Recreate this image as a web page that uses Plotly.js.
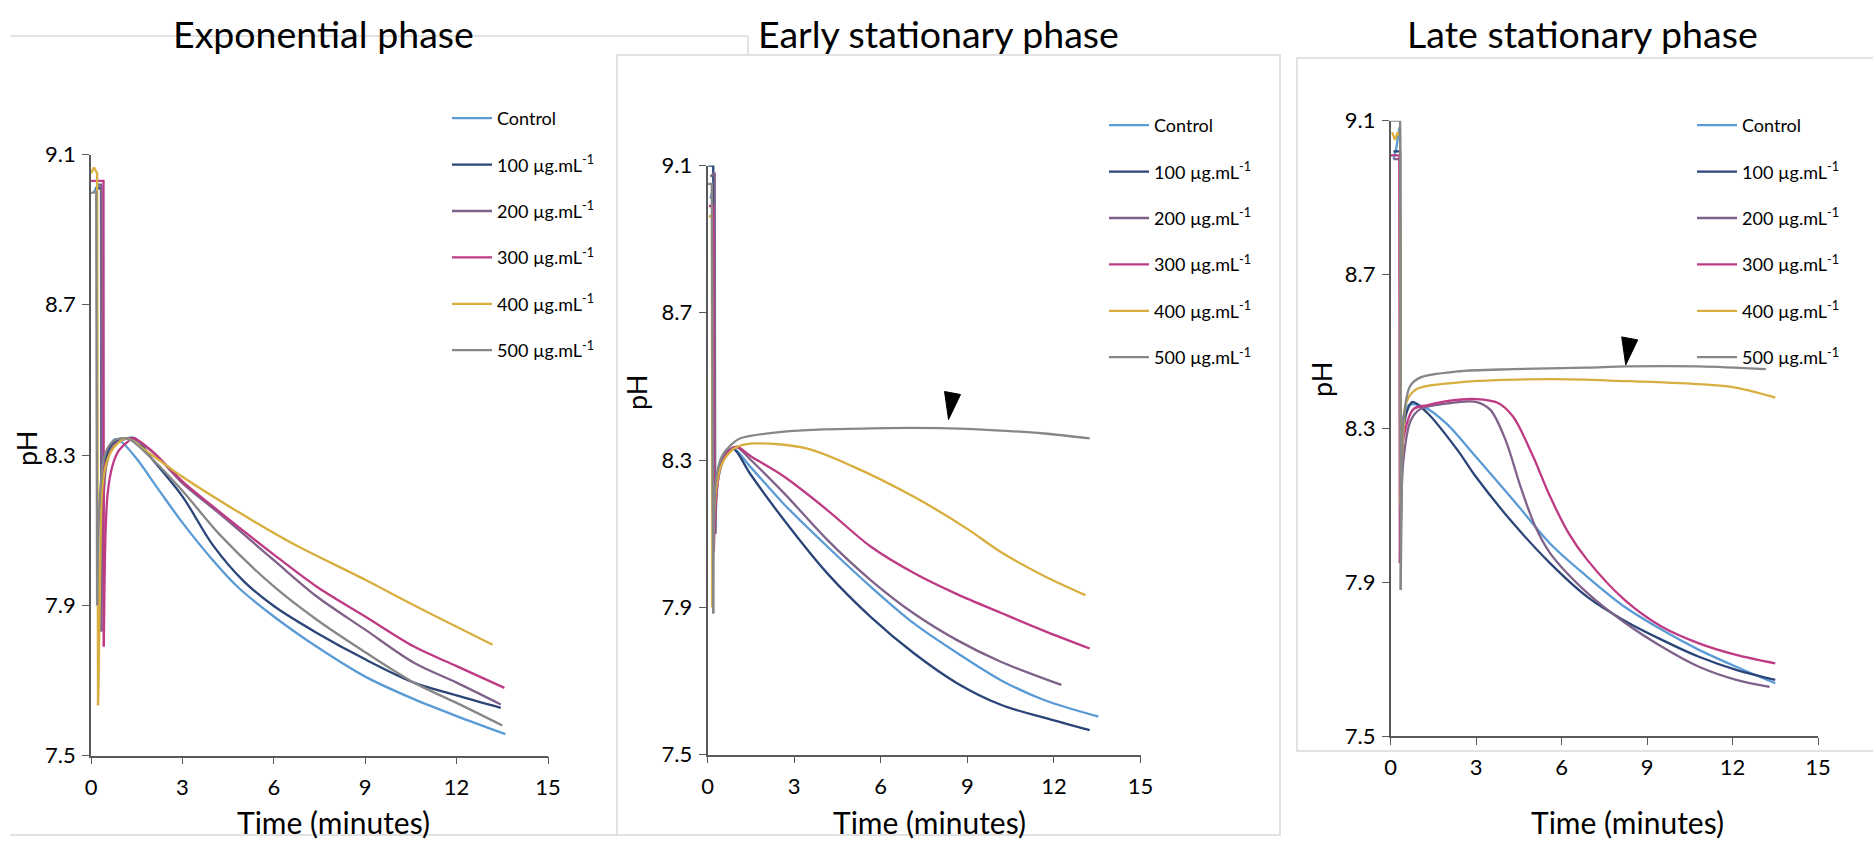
<!DOCTYPE html>
<html>
<head>
<meta charset="utf-8">
<script src="https://cdn.plot.ly/plotly-3.0.1.min.js"></script>
<style>html,body{margin:0;padding:0;background:#fff;}#chart{width:1873px;height:841px;}</style>
</head>
<body>
<div id="chart"></div>
<script>
// ---------- labels ----------
const panelTitles = ["Exponential phase", "Early stationary phase", "Late stationary phase"];
const seriesNames = ["Control", "100 µg.mL<sup>-1</sup>", "200 µg.mL<sup>-1</sup>", "300 µg.mL<sup>-1</sup>", "400 µg.mL<sup>-1</sup>", "500 µg.mL<sup>-1</sup>"];
const seriesColors = ["#5B9BD5", "#2B4578", "#7F6289", "#BE3A84", "#D8AE3E", "#878787"];
const xTickVals = [0, 3, 6, 9, 12, 15];
const yTickVals = [7.5, 7.9, 8.3, 8.7, 9.1];
const xTitle = "Time (minutes)";
const yTitle = "pH";

// ---------- Exponential phase ----------
const exp_ctrl_t  = [0.1, 0.2, 0.34, 0.36, 0.4, 0.45, 0.55, 0.78, 1.0, 1.5, 2.2, 3, 4, 4.8, 6, 7.4, 9, 10.6, 12, 13.6];
const exp_ctrl_ph = [9.0, 9.016, 9.016, 8.03, 8.15, 8.27, 8.31, 8.342, 8.335, 8.29, 8.21, 8.12, 8.02, 7.95, 7.87, 7.79, 7.71, 7.65, 7.605, 7.557];
const exp_100_t   = [0.15, 0.33, 0.34, 0.4, 0.5, 0.7, 1.0, 1.43, 2.0, 3, 4, 5, 6, 7.4, 9, 10.6, 12, 13.45];
const exp_100_ph  = [9.01, 9.01, 8.0, 8.2, 8.29, 8.33, 8.34, 8.345, 8.29, 8.19, 8.06, 7.965, 7.898, 7.827, 7.756, 7.694, 7.66, 7.627];
const exp_200_t   = [0.2, 0.33, 0.34, 0.4, 0.5, 0.7, 1.0, 1.3, 2, 3, 4.2, 6, 7.4, 9, 10.6, 12, 13.45];
const exp_200_ph  = [9.02, 9.02, 7.83, 8.15, 8.27, 8.32, 8.34, 8.345, 8.31, 8.225, 8.145, 8.02, 7.924, 7.835, 7.747, 7.694, 7.636];
const exp_300_t   = [0.0, 0.41, 0.42, 0.48, 0.55, 0.7, 0.9, 1.2, 1.4, 2, 3, 4.2, 6, 7.4, 9, 10.6, 12, 13.57];
const exp_300_ph  = [9.03, 9.03, 7.79, 8.1, 8.2, 8.27, 8.31, 8.335, 8.345, 8.31, 8.23, 8.15, 8.035, 7.95, 7.87, 7.79, 7.738, 7.68];
const exp_400_t   = [0.0, 0.1, 0.2, 0.23, 0.25, 0.3, 0.38, 0.55, 0.8, 1.17, 2, 3, 4.8, 6.6, 9, 10.6, 12, 13.18];
const exp_400_ph  = [9.05, 9.065, 9.05, 7.634, 7.7, 8.0, 8.22, 8.29, 8.325, 8.344, 8.30, 8.242, 8.15, 8.065, 7.968, 7.9, 7.843, 7.795];
const exp_500_t   = [0.0, 0.17, 0.2, 0.3, 0.45, 0.7, 1.0, 1.3, 2, 3, 4.2, 6, 7.4, 9, 10.6, 12, 13.5];
const exp_500_ph  = [8.998, 9.0, 7.9, 8.2, 8.3, 8.335, 8.345, 8.34, 8.29, 8.205, 8.09, 7.95, 7.862, 7.775, 7.694, 7.64, 7.58];

// ---------- Early stationary phase ----------
const early_ctrl_t  = [0.1, 0.2, 0.24, 0.26, 0.3, 0.4, 0.6, 0.9, 1.5, 2.65, 4.15, 5.65, 7.15, 8.66, 10.16, 11.66, 13.54];
const early_ctrl_ph = [9.01, 9.04, 9.0, 8.1, 8.2, 8.26, 8.31, 8.33, 8.28, 8.18, 8.065, 7.956, 7.856, 7.775, 7.702, 7.648, 7.603];
const early_100_t   = [0.03, 0.2, 0.22, 0.3, 0.45, 0.7, 0.9, 1.5, 2.65, 4.15, 5.65, 7.15, 8.66, 10.16, 11.66, 13.24];
const early_100_ph  = [9.1, 9.1, 8.1, 8.22, 8.29, 8.32, 8.33, 8.26, 8.137, 7.992, 7.874, 7.775, 7.693, 7.635, 7.60, 7.566];
const early_200_t   = [0.1, 0.25, 0.27, 0.35, 0.5, 0.7, 1.0, 1.5, 2.65, 4.15, 5.65, 7.15, 8.66, 10.16, 12.26];
const early_200_ph  = [9.07, 9.08, 8.1, 8.24, 8.3, 8.325, 8.335, 8.3, 8.21, 8.083, 7.974, 7.883, 7.81, 7.752, 7.689];
const early_300_t   = [0.05, 0.2, 0.22, 0.3, 0.45, 0.7, 1.0, 1.5, 2.65, 4.15, 5.65, 7.15, 8.66, 10.16, 11.66, 13.24];
const early_300_ph  = [8.99, 8.99, 8.05, 8.2, 8.28, 8.32, 8.336, 8.31, 8.255, 8.164, 8.065, 7.993, 7.935, 7.885, 7.836, 7.788];
const early_400_t   = [0.05, 0.15, 0.17, 0.2, 0.3, 0.45, 0.7, 1.0, 1.6, 3.4, 5.05, 7.15, 8.96, 10.16, 11.66, 13.09];
const early_400_ph  = [8.96, 8.965, 7.9, 8.1, 8.22, 8.28, 8.315, 8.335, 8.345, 8.332, 8.282, 8.2, 8.115, 8.05, 7.985, 7.933];
const early_500_t   = [0.0, 0.15, 0.2, 0.22, 0.3, 0.5, 0.8, 1.14, 2.65, 4.0, 5.65, 7.0, 8.36, 10.16, 11.66, 13.24];
const early_500_ph  = [9.05, 9.05, 7.883, 8.1, 8.25, 8.31, 8.34, 8.359, 8.377, 8.383, 8.386, 8.387, 8.386, 8.38, 8.372, 8.359];

// ---------- Late stationary phase ----------
const late_ctrl_t  = [0.1, 0.2, 0.3, 0.33, 0.35, 0.44, 0.64, 1.16, 1.95, 2.99, 4.3, 5.6, 6.9, 8.21, 9.52, 10.82, 12.13, 13.5];
const late_ctrl_ph = [9.0, 9.03, 9.08, 9.08, 8.06, 8.33, 8.361, 8.356, 8.313, 8.226, 8.114, 8.0, 7.914, 7.836, 7.776, 7.724, 7.68, 7.637];
const late_100_t   = [0.1, 0.33, 0.35, 0.45, 0.6, 0.77, 1.29, 2.34, 2.99, 4.3, 5.6, 6.9, 8.21, 9.52, 10.82, 12.13, 13.5];
const late_100_ph  = [9.02, 9.02, 8.1, 8.3, 8.35, 8.369, 8.34, 8.244, 8.174, 8.053, 7.949, 7.862, 7.80, 7.75, 7.706, 7.672, 7.646];
const late_200_t   = [0.1, 0.33, 0.35, 0.45, 0.7, 1.03, 2.0, 2.99, 3.5, 4.03, 4.56, 5.08, 5.6, 6.9, 8.21, 9.52, 10.82, 12.13, 13.3];
const late_200_ph  = [9.0, 9.0, 8.0, 8.22, 8.32, 8.35, 8.365, 8.369, 8.348, 8.27, 8.148, 8.044, 7.975, 7.872, 7.795, 7.732, 7.68, 7.646, 7.628];
const late_300_t   = [0.0, 0.3, 0.32, 0.38, 0.44, 0.8, 1.27, 2.08, 3.0, 3.77, 4.3, 4.95, 5.6, 6.25, 6.9, 8.21, 9.52, 10.82, 12.13, 13.5];
const late_300_ph  = [9.01, 9.01, 7.95, 8.15, 8.27, 8.35, 8.36, 8.372, 8.376, 8.366, 8.33, 8.235, 8.122, 8.027, 7.958, 7.854, 7.784, 7.741, 7.711, 7.689];
const late_400_t   = [0.05, 0.15, 0.25, 0.33, 0.35, 0.45, 0.56, 0.91, 2.34, 5.6, 8.21, 10.8, 12.1, 13.5];
const late_400_ph  = [9.07, 9.05, 9.07, 9.06, 8.1, 8.3, 8.37, 8.402, 8.419, 8.428, 8.423, 8.415, 8.406, 8.38];
const late_500_t   = [0.0, 0.33, 0.35, 0.4, 0.44, 0.68, 1.03, 2.34, 4.3, 6.9, 8.28, 10.82, 13.17];
const late_500_ph  = [9.1, 9.1, 7.88, 8.2, 8.317, 8.41, 8.432, 8.448, 8.454, 8.458, 8.461, 8.461, 8.454];

// arrowhead marks (tip position, data units)
const arrowPanels = [2, 3];
const arrowTime = [8.35, 8.25];
const arrowPH = [8.41, 8.465];

// ---------- build ----------
const panels = [
  {t: [exp_ctrl_t, exp_100_t, exp_200_t, exp_300_t, exp_400_t, exp_500_t],
   p: [exp_ctrl_ph, exp_100_ph, exp_200_ph, exp_300_ph, exp_400_ph, exp_500_ph]},
  {t: [early_ctrl_t, early_100_t, early_200_t, early_300_t, early_400_t, early_500_t],
   p: [early_ctrl_ph, early_100_ph, early_200_ph, early_300_ph, early_400_ph, early_500_ph]},
  {t: [late_ctrl_t, late_100_t, late_200_t, late_300_t, late_400_t, late_500_t],
   p: [late_ctrl_ph, late_100_ph, late_200_ph, late_300_ph, late_400_ph, late_500_ph]}
];

const W = 1873, H = 841;
const px = v => v / W, py = v => 1 - v / H;
const FONT = "Lato, 'Open Sans', sans-serif";

// index of the bottom of the initial injection spike (minimum within the first minute)
function spikeBottom(t, p) {
  let k = 0;
  for (let i = 0; i < t.length && t[i] < 0.6; i++) if (p[i] < p[k]) k = i;
  return k;
}

const traces = [];
panels.forEach((pan, pi) => {
  const sfx = pi === 0 ? "" : String(pi + 1);
  pan.t.forEach((tarr, si) => {
    const parr = pan.p[si];
    const k = spikeBottom(tarr, parr);
    const common = {
      type: "scatter", mode: "lines",
      name: seriesNames[si],
      xaxis: "x" + sfx, yaxis: "y" + sfx,
      legend: "legend" + sfx,
      legendgroup: "p" + pi + "s" + si,
      hoverinfo: "x+y+name"
    };
    // sharp spike part (straight segments)
    traces.push(Object.assign({}, common, {
      x: tarr.slice(0, k + 1), y: parr.slice(0, k + 1), showlegend: false,
      line: {color: seriesColors[si], width: 2.3, shape: "linear"}
    }));
    // smooth recovery / decay part
    traces.push(Object.assign({}, common, {
      x: tarr.slice(k), y: parr.slice(k), showlegend: true,
      line: {color: seriesColors[si], width: 2.3, shape: "spline", smoothing: 0.9}
    }));
  });
});

// pixel-geometry of each plot area (x0,x1,ytop,ybottom)
const boxes = [[91, 548, 154.5, 755.5], [707.5, 1140.5, 165.5, 754.5], [1390.7, 1818, 120.7, 736]];

const layout = {
  width: W, height: H,
  margin: {l: 0, r: 0, t: 0, b: 0},
  paper_bgcolor: "#ffffff",
  plot_bgcolor: "rgba(0,0,0,0)",
  font: {family: FONT, color: "#000"},
  showlegend: true,
  annotations: [],
  shapes: []
};

boxes.forEach((b, i) => {
  const sfx = i === 0 ? "" : String(i + 1);
  layout["xaxis" + sfx] = {
    domain: [px(b[0]), px(b[1])], anchor: "y" + sfx,
    range: [0, 15], tickvals: xTickVals, ticktext: xTickVals.map(String),
    showgrid: false, zeroline: false, showline: true, linecolor: "#595959", linewidth: 1.6,
    ticks: "outside", ticklen: 7, tickwidth: 1.4, tickcolor: "#595959",
    tickfont: {size: 22, family: FONT, color: "#000"}, ticklabelstandoff: 4, fixedrange: true
  };
  layout["yaxis" + sfx] = {
    domain: [py(b[3]), py(b[2])], anchor: "x" + sfx,
    range: [7.5, 9.1], tickvals: yTickVals, ticktext: yTickVals.map(v => v.toFixed(1)),
    showgrid: false, zeroline: false, showline: true, linecolor: "#595959", linewidth: 1.6,
    ticks: "outside", ticklen: 7, tickwidth: 1.4, tickcolor: "#595959",
    tickfont: {size: 22, family: FONT, color: "#000"}, ticklabelstandoff: 2, fixedrange: true
  };
});

// legends
const legendPos = [[447, 100], [1104, 107], [1692, 107]];
legendPos.forEach((lp, i) => {
  const key = i === 0 ? "legend" : "legend" + (i + 1);
  layout[key] = {
    x: px(lp[0]), y: py(lp[1]), xanchor: "left", yanchor: "top",
    bgcolor: "rgba(0,0,0,0)", borderwidth: 0,
    font: {size: 18, family: FONT, color: "#000"},
    tracegroupgap: 20, itemwidth: 40, traceorder: "grouped"
  };
});

// titles
const titleX = [323.5, 938.5, 1582];
titleX.forEach((x, i) => layout.annotations.push({
  text: panelTitles[i], xref: "paper", yref: "paper", x: px(x), y: py(33),
  xanchor: "center", yanchor: "middle", showarrow: false,
  font: {size: 37.5, family: FONT, color: "#000"}
}));
// axis titles
const xTitleX = [333, 929, 1627];
xTitleX.forEach(x => layout.annotations.push({
  text: xTitle, xref: "paper", yref: "paper", x: px(x), y: py(822),
  xanchor: "center", yanchor: "middle", showarrow: false,
  font: {size: 30, family: FONT, color: "#000"}
}));
const yTitlePos = [[26, 449], [636, 393], [1321, 380]];
yTitlePos.forEach(p => layout.annotations.push({
  text: yTitle, xref: "paper", yref: "paper", x: px(p[0]), y: py(p[1]),
  xanchor: "center", yanchor: "middle", showarrow: false, textangle: -90,
  font: {size: 27, family: FONT, color: "#000"}
}));

// panel frames
const frameCol = "#d9d9d9";
layout.shapes.push(
  {type: "line", xref: "paper", yref: "paper", x0: px(10), x1: px(748), y0: py(36), y1: py(36), line: {color: frameCol, width: 1.5}, layer: "below"},
  {type: "line", xref: "paper", yref: "paper", x0: px(748), x1: px(748), y0: py(36), y1: py(56), line: {color: frameCol, width: 1.5}, layer: "below"},
  {type: "line", xref: "paper", yref: "paper", x0: px(10), x1: px(617), y0: py(835), y1: py(835), line: {color: frameCol, width: 1.5}, layer: "below"},
  {type: "rect", xref: "paper", yref: "paper", x0: px(617), x1: px(1280), y0: py(835), y1: py(55), fillcolor: "#ffffff", line: {color: frameCol, width: 1.5}, layer: "below"},
  {type: "rect", xref: "paper", yref: "paper", x0: px(1297), x1: px(1890), y0: py(751), y1: py(58), fillcolor: "#ffffff", line: {color: frameCol, width: 1.5}, layer: "below"}
);

// arrowheads (pixel-sized triangles anchored at data positions)
arrowPanels.forEach((pn, i) => {
  const sfx = String(pn);
  layout.shapes.push({
    type: "path", xref: "x" + sfx, yref: "y" + sfx,
    xsizemode: "pixel", ysizemode: "pixel",
    xanchor: arrowTime[i], yanchor: arrowPH[i],
    path: "M0,0 L-4,28 L12,25 Z",
    fillcolor: "#000000", line: {color: "#000000", width: 1}, layer: "above"
  });
});

Plotly.newPlot("chart", traces, layout, {displayModeBar: false, staticPlot: false});
</script>
</body>
</html>
